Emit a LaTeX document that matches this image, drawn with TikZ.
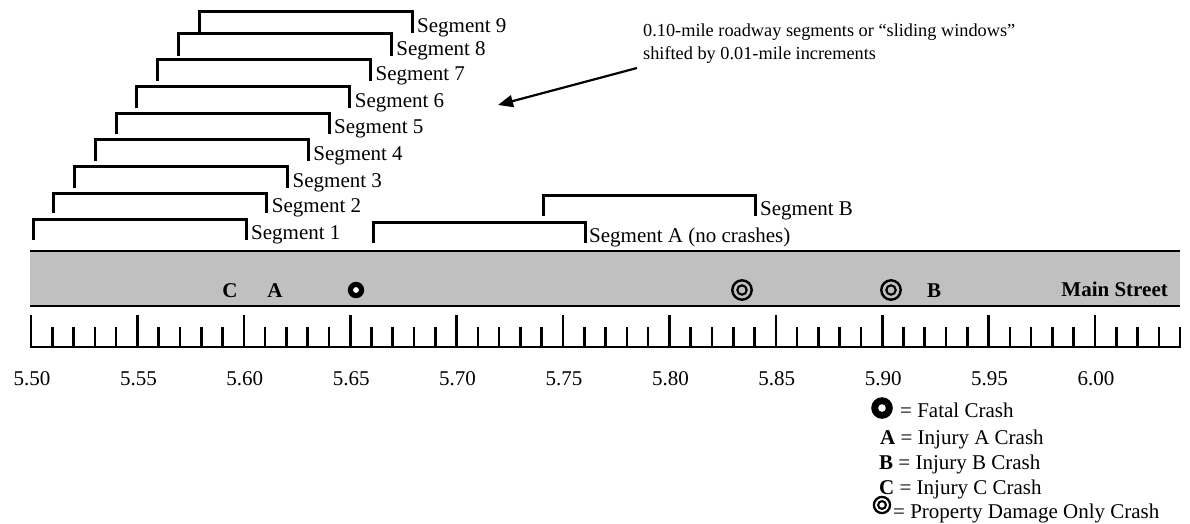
\documentclass[tikz,border=0pt]{standalone}
\usepackage{fontspec}
\setmainfont{Liberation Serif}
\usetikzlibrary{arrows.meta}
\definecolor{roadgray}{HTML}{C0C0C0}
\begin{document}
\begin{tikzpicture}[x=1pt,y=-1pt,
  every node/.style={font=\fontsize{21}{23}\selectfont, inner sep=0pt},
  lbl/.style={anchor=base west},
  brk/.style={line width=3pt, line join=miter},
  edge/.style={line width=2.8pt},
  tick/.style={line width=2.6pt},
  crash/.style={anchor=base, font=\fontsize{21}{23}\selectfont\bfseries},
  pointer/.style={line width=2.2pt, -{Triangle[length=15pt, width=12pt]}}
]
\useasboundingbox (0,0) rectangle (1190,523);

% road band
\fill[roadgray] (30,251) rectangle (1180,306);
\draw[edge] (30,251) -- (1180,251);
\draw[edge] (30,306) -- (1180,306);

% ruler
\draw[line width=2.8pt] (30,347) -- (1181,347);
\foreach \i in {0,...,54}{
  \pgfmathsetmacro\tx{31+\i*21.28}
  \pgfmathtruncatemacro\m{mod(\i,5)}
  \ifnum\m=0
    \draw[tick] (\tx,347) -- (\tx,315);
  \else
    \draw[tick] (\tx,347) -- (\tx,327);
  \fi
}
\foreach \i/\t in {0/5.50,1/5.55,2/5.60,3/5.65,4/5.70,5/5.75,6/5.80,7/5.85,8/5.90,9/5.95,10/6.00}{
  \node[anchor=base] (n\i) at (32+\i*106.4,385) {\t};
}

% sliding window segments
\foreach \k/\yt/\yb in {1/219/240, 2/193/213, 3/166/188, 4/139/161, 5/113/134, 6/86/108, 7/59/81, 8/33/56, 9/11/33}{
  \pgfmathsetmacro\xl{33+(\k-1)*20.75}
  \pgfmathsetmacro\xr{\xl+213}
  \draw[brk] (\xl,\yb) -- (\xl,\yt) -- (\xr,\yt) -- (\xr,\yb);
  \node[lbl] (s\k) at (\xr+5,\yb-1) {Segment \k};
}
\draw[brk] (373,243) -- (373,222) -- (585,222) -- (585,243);
\node[lbl] (sA) at (589,242) {Segment A (no crashes)};
\draw[brk] (543,216) -- (543,195) -- (755,195) -- (755,216);
\node[lbl] (sB) at (760,215) {Segment B};

% annotation
\node[lbl, align=left, font=\fontsize{18.3}{23}\selectfont] (note) at (643,59) {0.10-mile roadway segments or “sliding windows”\\shifted by 0.01-mile increments};
\coordinate (arrS) at (637,68);
\coordinate (arrE) at (498,105);
\draw[pointer] (arrS) -- (arrE);

% crashes on the road
\node[crash] (cC) at (230,297) {C};
\node[crash] (cA) at (275,297) {A};
\coordinate (cF) at (356,290);
\fill (cF) circle (8.2pt);
\fill[white] (cF) circle (2.9pt);
\coordinate (cP1) at (742,290);
\draw[line width=2.4pt] (cP1) circle (9.7pt);
\draw[line width=2.1pt] (cP1) circle (4.7pt);
\coordinate (cP2) at (891,290);
\draw[line width=2.4pt] (cP2) circle (9.7pt);
\draw[line width=2.1pt] (cP2) circle (4.7pt);
\node[crash] (cB) at (934,297) {B};
\node[crash, anchor=base east] (street) at (1168,296) {Main Street};

% legend
\coordinate (lF) at (882,408);
\fill (lF) circle (10.8pt);
\fill[white] (lF) circle (3.8pt);
\node[lbl] (lFt) at (900,417) {= Fatal Crash};
\node[lbl] (lA) at (880,444) {\textbf{A} = Injury A Crash};
\node[lbl] (lB) at (879,469) {\textbf{B} = Injury B Crash};
\node[lbl] (lC) at (879,494) {\textbf{C} = Injury C Crash};
\coordinate (lP) at (882,505);
\draw[line width=2.3pt] (lP) circle (8.1pt);
\draw[line width=2.1pt] (lP) circle (3.9pt);
\node[lbl] (lPt) at (893,518) {= Property Damage Only Crash};
\end{tikzpicture}
\end{document}
